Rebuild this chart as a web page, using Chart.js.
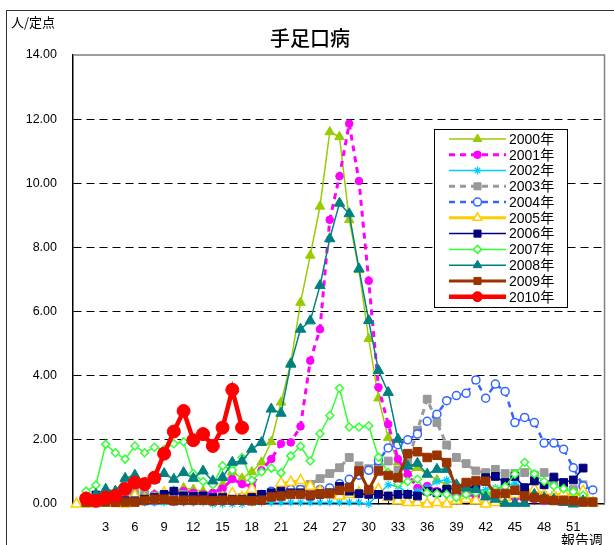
<!DOCTYPE html>
<html lang="ja">
<head>
<meta charset="utf-8">
<title>手足口病</title>
<script src="https://cdn.jsdelivr.net/npm/chart.js@4.4.1/dist/chart.umd.min.js"></script>
<style>
  html, body { margin: 0; padding: 0; background: #fff; overflow: hidden; }
  #wrap { position: relative; width: 614px; height: 545px; overflow: hidden; font-family: "Noto Sans CJK JP", sans-serif; }
  #frame { position: absolute; left: 6px; top: 10px; width: 700px; height: 600px; border: 1px solid #333; }
  #chart { position: absolute; left: 0; top: 0; }
  .txt { position: absolute; color: #000; white-space: nowrap; line-height: 1; }
  #title { left: 0; width: 620px; top: 28px; text-align: center; font-size: 20px; font-weight: 500; }
  #unit { left: 11px; top: 15px; font-size: 13px; }
  #xunit { left: 561px; top: 532px; font-size: 14px; }
</style>
</head>
<body>
<div id="wrap">
  <div id="frame"></div>
  <canvas id="chart" width="614" height="545"></canvas>
  <div class="txt" id="title">手足口病</div>
  <div class="txt" id="unit">人/定点</div>
  <div class="txt" id="xunit">報告週</div>
</div>
<script>
// 報告週 (week 0 is only used by 2005)
const weeks = [0, 1, 2, 3, 4, 5, 6, 7, 8, 9, 10, 11, 12, 13, 14, 15, 16, 17, 18, 19, 20,
  21, 22, 23, 24, 25, 26, 27, 28, 29, 30, 31, 32, 33, 34, 35, 36, 37, 38, 39, 40,
  41, 42, 43, 44, 45, 46, 47, 48, 49, 50, 51, 52, 53];
const weekLabels = [3, 6, 9, 12, 15, 18, 21, 24, 27, 30, 33, 36, 39, 42, 45, 48, 51];
const yTicks = [0, 2, 4, 6, 8, 10, 12, 14];

const y2000 = [null, 0.15, 0.2, 0.15, 0.2, 0.2, 0.25, 0.3, 0.3, 0.35, 0.4, 0.5, 0.45, 0.4, 0.35, 0.6, 1.0, 0.8, 1.0, 1.3, 1.94,
  3.17, 4.4, 6.28, 7.75, 9.28, 11.6, 11.45, 8.86, 7.3, 5.15, 3.3, 2.07, 1.3, 0.95, 1.13, 0.93, 0.75, 0.6, 0.5, 0.45,
  0.4, 0.35, 0.3, 0.3, 0.25, 0.25, 0.2, 0.2, 0.2, 0.15, 0.15, 0.1, null];
const y2001 = [null, 0.1, 0.1, 0.15, 0.15, 0.2, 0.2, 0.25, 0.3, 0.3, 0.35, 0.4, 0.35, 0.3, 0.35, 0.48, 0.78, 0.62, 0.55, 1.05, 1.4,
  1.88, 1.92, 2.42, 4.47, 5.45, 8.86, 10.22, 11.86, 10.07, 6.96, 3.64, 2.49, 1.4, 0.93, 0.5, 0.56, 0.4, 0.35, 0.3, 0.3,
  0.25, 0.25, 0.2, 0.2, 0.2, 0.15, 0.15, 0.1, 0.1, 0.1, 0.1, 0.1, null];
const y2002 = [null, 0.05, 0.05, 0.05, 0.05, 0.05, 0.05, 0.05, 0.05, 0.05, 0.05, 0.05, 0.05, 0.05, 0.0, 0.0, 0.0, 0.0, 0.05, 0.05, 0.05,
  0.05, 0.05, 0.05, 0.05, 0.05, 0.05, 0.05, 0.05, 0.05, 0.0, 0.3, 0.6, 0.55, 0.35, 0.4, 0.5, 0.7, 0.75, 0.6, 0.5,
  0.4, 0.45, 0.5, 0.55, 0.65, 0.5, 0.4, 0.3, 0.3, 0.2, 0.2, 0.1, null];
const y2003 = [null, 0.1, 0.15, 0.2, 0.2, 0.25, 0.37, 0.3, 0.25, 0.25, 0.3, 0.3, 0.25, 0.25, 0.2, 0.25, 0.2, 0.2, 0.25, 0.25, 0.3,
  0.3, 0.35, 0.45, 0.61, 0.79, 0.95, 1.13, 1.45, 1.19, 1.1, 1.2, 1.34, 1.05, 1.3, 2.3, 3.27, 2.54, 1.84, 1.45, 1.26,
  1.03, 0.98, 1.08, 0.95, 0.95, 0.98, 0.9, 0.98, 0.7, 0.55, 0.45, 0.6, null];
const y2004 = [null, 0.1, 0.1, 0.1, 0.1, 0.1, 0.15, 0.1, 0.1, 0.15, 0.1, 0.1, 0.1, 0.15, 0.1, 0.1, 0.1, 0.15, 0.2, 0.3, 0.4,
  0.35, 0.45, 0.45, 0.4, 0.45, 0.5, 0.63, 0.77, 0.9, 1.05, 1.35, 1.75, 1.85, 2.0, 2.18, 2.58, 2.8, 3.22, 3.38, 3.45,
  3.87, 3.3, 3.74, 3.51, 2.54, 2.7, 2.54, 1.9, 1.9, 1.71, 1.13, 0.56, 0.44];
const y2005 = [0.0, 0.0, 0.05, 0.05, 0.1, 0.0, 0.25, 0.15, 0.15, 0.35, 0.2, 0.15, 0.15, 0.1, 0.15, 0.2, 0.33, 0.2, 0.46, 0.2, 0.25,
  0.65, 0.68, 0.73, 0.55, 0.4, 0.3, 0.25, 0.3, 0.35, 0.4, 0.45, 0.2, 0.1, 0.05, 0.05, 0.0, 0.05, 0.0, 0.1, 0.15,
  0.1, 0.0, 0.05, 0.2, 0.3, 0.4, 0.46, 0.3, 0.25, 0.35, 0.2, 0.4, 0.04];
const y2006 = [null, 0.1, 0.28, 0.2, 0.15, 0.1, 0.1, 0.15, 0.2, 0.3, 0.4, 0.25, 0.24, 0.25, 0.2, 0.2, 0.15, 0.15, 0.2, 0.3, 0.35,
  0.4, 0.35, 0.35, 0.25, 0.3, 0.35, 0.55, 0.4, 0.32, 0.3, 0.3, 0.25, 0.3, 0.3, 0.25, 0.4, 0.35, 0.46, 0.5, 0.55,
  0.5, 0.82, 0.86, 0.67, 0.86, 0.51, 0.72, 0.6, 0.84, 0.67, 0.75, 1.12, null];
const y2007 = [null, 0.4, 0.59, 1.86, 1.6, 1.4, 1.81, 1.6, 1.77, 1.7, 1.88, 1.94, 0.95, 0.7, 0.6, 1.19, 1.05, 1.45, 0.74, 1.0, 1.12,
  0.97, 1.5, 1.8, 1.34, 2.19, 2.76, 3.61, 2.4, 2.4, 2.44, 1.46, 0.98, 0.63, 0.7, 0.77, 0.35, 0.32, 0.3, 0.2, 0.3,
  0.35, 0.3, 0.45, 0.54, 0.93, 1.3, 0.94, 0.71, 0.56, 0.48, 0.38, 0.27, null];
const y2008 = [null, 0.2, 0.3, 0.46, 0.4, 0.8, 0.9, 0.65, 0.75, 0.95, 0.77, 0.98, 0.8, 1.03, 0.72, 0.83, 1.3, 1.34, 1.71, 1.92, 2.96,
  2.83, 4.36, 5.45, 5.71, 6.81, 8.27, 9.38, 9.05, 7.33, 5.72, 4.16, 3.48, 2.02, 1.18, 1.27, 0.93, 1.08, 1.08, 0.6, 0.5,
  0.45, 0.22, 0.15, 0.02, 0.02, 0.02, 0.3, 0.2, 0.15, 0.05, 0.0, 0.1, null];
const y2009 = [null, 0.05, 0.05, 0.06, 0.05, 0.06, 0.06, 0.11, 0.15, 0.15, 0.1, 0.12, 0.12, 0.12, 0.1, 0.12, 0.12, 0.12, 0.1, 0.12, 0.22,
  0.25, 0.3, 0.3, 0.28, 0.32, 0.32, 0.43, 0.51, 1.03, 0.44, 1.03, 0.89, 0.82, 1.57, 1.63, 1.45, 1.52, 1.29, 0.46, 0.67,
  0.72, 0.71, 0.33, 0.33, 0.43, 0.25, 0.2, 0.15, 0.11, 0.11, 0.1, 0.06, 0.06];
const y2010 = [null, 0.17, 0.1, 0.2, 0.25, 0.47, 0.67, 0.62, 0.82, 1.57, 2.26, 2.9, 1.99, 2.18, 1.81, 2.38, 3.56, 2.38];

function series(label, data, color, opts) {
  return Object.assign({
    label: label,
    data: data,
    borderColor: color,
    backgroundColor: color,
    borderWidth: 1.5,
    borderDash: [],
    pointStyle: "circle",
    pointRadius: 4,
    pointBackgroundColor: color,
    pointBorderColor: color,
    pointBorderWidth: 1,
    tension: 0,
    clip: 10,
  }, opts);
}

const datasets = [
  series("2000年", y2000, "#99CC00", { pointStyle: "triangle", pointRadius: 5.5 }),
  series("2001年", y2001, "#FF00FF", { borderWidth: 3, borderDash: [6, 5], pointRadius: 3.8 }),
  series("2002年", y2002, "#00CCFF", { pointStyle: "star", pointRadius: 4, pointBorderWidth: 1.2 }),
  series("2003年", y2003, "#999999", { borderWidth: 3, borderDash: [6, 5], pointStyle: "rect", pointRadius: 5.5 }),
  series("2004年", y2004, "#3366FF", { borderWidth: 2.5, borderDash: [6, 5], pointRadius: 4, pointBackgroundColor: "#fff", pointBorderWidth: 1.5 }),
  series("2005年", y2005, "#FFCC00", { borderWidth: 3, pointStyle: "triangle", pointRadius: 6, pointBackgroundColor: "#fff", pointBorderWidth: 1.5 }),
  series("2006年", y2006, "#000080", { pointStyle: "rect", pointRadius: 5.5 }),
  series("2007年", y2007, "#33FF33", { pointStyle: "rectRot", pointRadius: 4, pointBackgroundColor: "#fff", pointBorderWidth: 1.5 }),
  series("2008年", y2008, "#008080", { pointStyle: "triangle", pointRadius: 6 }),
  series("2009年", y2009, "#993300", { borderWidth: 3, pointStyle: "rect", pointRadius: 6 }),
  series("2010年", y2010, "#FF0000", { borderWidth: 4.5, pointRadius: 6.5 }),
];
// later years drawn on top
datasets.forEach((d, i) => { d.order = datasets.length - i; });

// legend box inside the plot, like the Excel original
const boxLegend = {
  id: "boxLegend",
  afterDatasetsDraw(chart) {
    const ctx = chart.ctx;
    const left = 434, top = 129, w = 133, h = 178;
    ctx.save();
    ctx.fillStyle = "#fff";
    ctx.fillRect(left, top, w, h);
    ctx.strokeStyle = "#000";
    ctx.lineWidth = 1;
    ctx.setLineDash([]);
    ctx.strokeRect(left + 0.5, top + 0.5, w, h);
    chart.data.datasets.forEach((ds, i) => {
      const y = top + 10 + i * 15.77;
      ctx.setLineDash(ds.borderDash);
      ctx.strokeStyle = ds.borderColor;
      ctx.lineWidth = ds.borderWidth;
      ctx.beginPath();
      ctx.moveTo(449, y);
      ctx.lineTo(506, y);
      ctx.stroke();
      ctx.setLineDash([]);
      ctx.fillStyle = ds.pointBackgroundColor;
      ctx.strokeStyle = ds.pointBorderColor;
      ctx.lineWidth = ds.pointBorderWidth;
      Chart.helpers.drawPoint(ctx, {
        pointStyle: ds.pointStyle,
        radius: Math.min(ds.pointRadius, 5),
        borderWidth: ds.pointBorderWidth,
        rotation: 0,
      }, 477.5, y);
      ctx.fillStyle = "#000";
      ctx.font = '14px "Liberation Sans", "Noto Sans CJK JP"';
      ctx.textBaseline = "middle";
      ctx.textAlign = "left";
      ctx.fillText(ds.label, 509, y + 1);
    });
    ctx.restore();
  },
};

// grey top/right frame of the plot area
const plotFrame = {
  id: "plotFrame",
  beforeDatasetsDraw(chart) {
    const { ctx, chartArea: a } = chart;
    ctx.save();
    ctx.strokeStyle = "#808080";
    ctx.lineWidth = 1.5;
    ctx.beginPath();
    ctx.moveTo(a.left, a.top);
    ctx.lineTo(a.right, a.top);
    ctx.lineTo(a.right, a.bottom);
    ctx.stroke();
    ctx.restore();
  },
};

new Chart(document.getElementById("chart").getContext("2d"), {
  type: "line",
  data: { labels: weeks, datasets: datasets },
  plugins: [plotFrame, boxLegend],
  options: {
    responsive: false,
    animation: false,
    events: [],
    layout: { padding: { top: 55, right: 8, left: 0, bottom: 0 } },
    plugins: { legend: { display: false }, title: { display: false }, tooltip: { enabled: false } },
    scales: {
      x: {
        type: "linear",
        min: -0.35,
        max: 54.2,
        afterBuildTicks: axis => { axis.ticks = weeks.slice(1).map(v => ({ value: v })); },
        afterFit: axis => { axis.height = 41; },
        ticks: {
          autoSkip: false,
          maxRotation: 0,
          padding: 21,
          color: "#000",
          font: { family: "Liberation Sans", size: 13 },
          callback: v => (weekLabels.includes(v) ? String(v) : ""),
        },
        grid: { drawOnChartArea: false, drawTicks: true, tickLength: -5, tickColor: "#000", tickWidth: 1 },
        border: { color: "#000", width: 1.5 },
      },
      y: {
        min: 0,
        max: 14,
        afterBuildTicks: axis => { axis.ticks = yTicks.map(v => ({ value: v })); },
        afterFit: axis => { axis.width = 73; },
        ticks: {
          padding: 16,
          color: "#000",
          font: { family: "Liberation Sans", size: 12.5 },
          callback: v => v.toFixed(2),
        },
        grid: {
          drawTicks: false,
          color: c => (c.tick && (c.tick.value === 0 || c.tick.value === 14) ? "rgba(0,0,0,0)" : "#000"),
          lineWidth: 1,
        },
        border: { color: "#000", width: 1.5, dash: [8, 5] },
      },
    },
  },
});
</script>
</body>
</html>
